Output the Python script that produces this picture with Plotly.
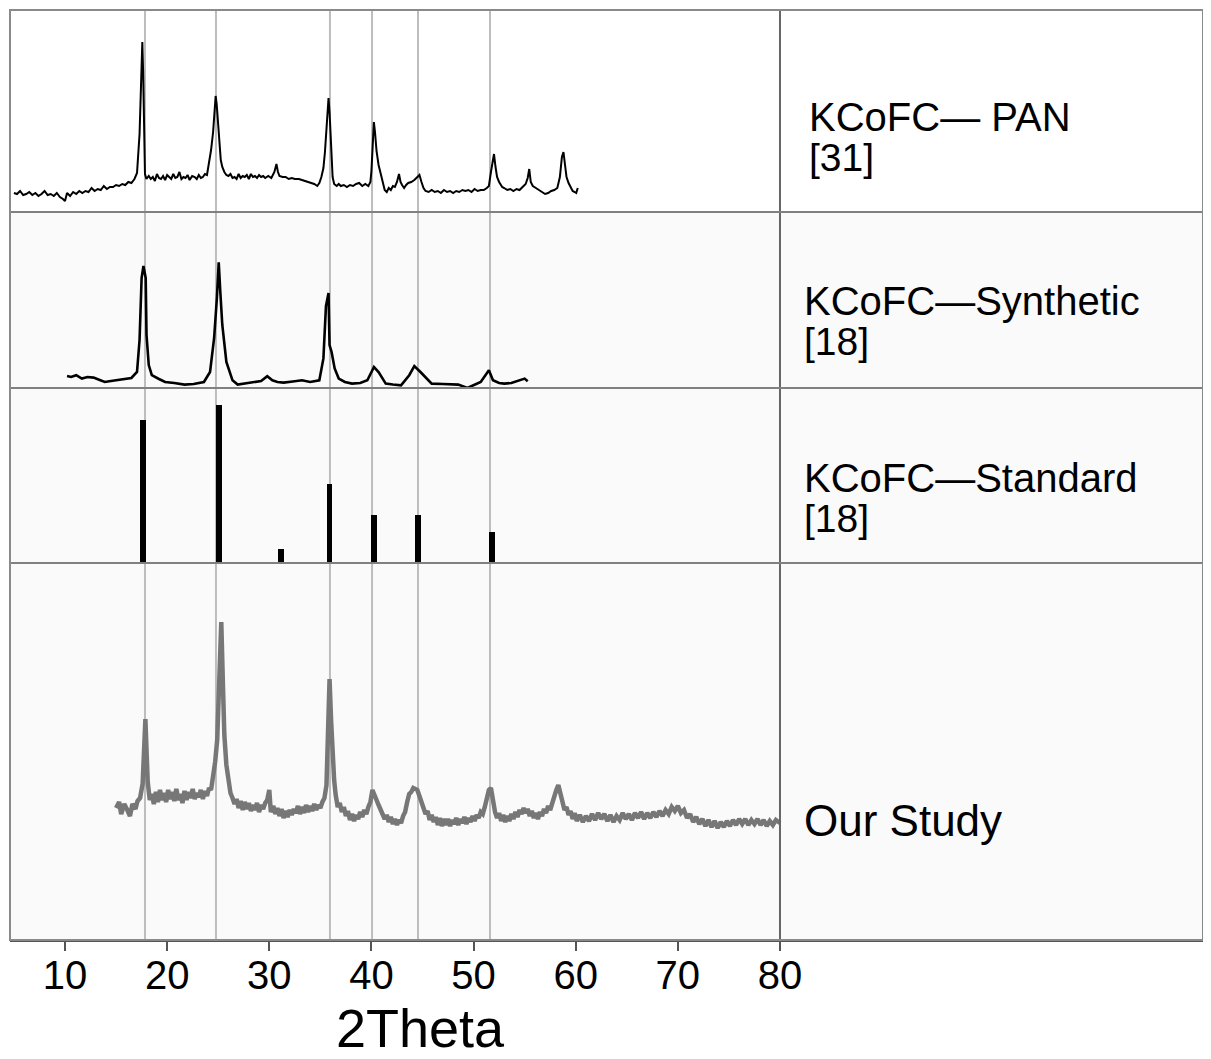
import plotly.graph_objects as go
from plotly.subplots import make_subplots

# ---------------- data (2Theta in degrees, intensity in arbitrary units) ----------------
pan_x = [5.0, 5.3, 5.6, 5.9, 6.2, 6.5, 6.8, 7.1, 7.4, 7.7, 8.0, 8.3, 8.6, 8.9, 9.2, 9.5, 9.8, 10.0,
         10.2, 10.5, 10.8, 11.1, 11.4, 11.7, 12.0, 12.3, 12.6, 12.9, 13.2, 13.5, 13.8, 14.1, 14.4,
         14.7, 15.0, 15.3, 15.6, 15.9, 16.2, 16.5, 16.8, 17.05, 17.3, 17.5, 17.57, 17.65, 17.75,
         17.83, 17.97, 18.2, 18.4, 18.6, 18.8, 19.0, 19.2, 19.4, 19.6, 19.8, 20.0, 20.2, 20.4,
         20.6, 20.8, 21.0, 21.2, 21.4, 21.6, 21.8, 22.0, 22.2, 22.45, 22.7, 22.9, 23.1, 23.3,
         23.5, 23.7, 23.9, 24.1, 24.3, 24.5, 24.65, 24.75, 24.85, 24.95, 25.1, 25.25, 25.4, 25.6,
         25.8, 26.0, 26.2, 26.4, 26.6, 26.8, 27.0, 27.2, 27.4, 27.6, 27.8, 28.0, 28.2, 28.4, 28.6,
         28.8, 29.0, 29.2, 29.4, 29.6, 29.9, 30.2, 30.5, 30.7, 30.85, 31.0, 31.3, 31.6, 31.9, 32.2,
         32.5, 32.9, 33.2, 33.5, 33.8, 34.1, 34.4, 34.7, 34.9, 35.1, 35.3, 35.45, 35.6, 35.7, 35.8,
         35.9, 36.0, 36.1, 36.2, 36.35, 36.6, 36.8, 37.0, 37.3, 37.6, 37.9, 38.2, 38.5, 38.8, 39.1,
         39.4, 39.7, 39.9, 40.0, 40.1, 40.24, 40.35, 40.5, 40.7, 40.9, 41.1, 41.3, 41.5, 41.7,
         41.9, 42.1, 42.3, 42.5, 42.7, 42.85, 43.0, 43.2, 43.4, 43.6, 43.9, 44.2, 44.5, 44.7, 44.9,
         45.1, 45.3, 45.6, 45.9, 46.2, 46.5, 46.8, 47.1, 47.4, 47.7, 48.0, 48.3, 48.6, 48.9, 49.2,
         49.5, 49.8, 50.1, 50.4, 50.7, 51.0, 51.3, 51.5, 51.7, 51.9, 52.0, 52.15, 52.3, 52.5, 52.8,
         53.0, 53.3, 53.6, 53.9, 54.2, 54.5, 54.8, 55.1, 55.3, 55.45, 55.6, 55.8, 56.1, 56.4, 56.7,
         57.0, 57.3, 57.6, 57.9, 58.2, 58.45, 58.65, 58.8, 58.95, 59.1, 59.3, 59.5, 59.7, 59.9,
         60.05, 60.2]
pan_y = [19, 18, 21, 17, 18, 20, 17, 19, 16, 18, 21, 17, 18, 16, 19, 15, 13, 11,
         19, 16, 20, 18, 21, 19, 21, 20, 24, 21, 23, 22, 26, 23, 25,
         25, 27, 26, 28, 27, 30, 29, 33, 39, 78, 150, 170, 140, 80,
         38, 33, 36, 33, 35, 31, 38, 34, 33, 36, 32, 37, 35, 33,
         38, 34, 35, 40, 33, 35, 34, 37, 32, 36, 35, 33, 37, 34,
         35, 38, 37, 48, 62, 80, 105, 116, 108, 92, 66, 52, 45, 40,
         37, 36, 38, 34, 35, 33, 38, 34, 36, 35, 37, 33, 38, 35, 36,
         34, 37, 35, 36, 34, 36, 34, 40, 48, 40, 36, 35, 35, 33, 34,
         33, 33, 32, 31, 30, 29, 28, 26, 29, 35, 44, 60, 85, 105, 114,
         100, 80, 55, 35, 28, 26, 28, 26, 27, 25, 27, 26, 28, 29, 26,
         28, 26, 30, 41, 60, 90, 80, 61, 47, 38, 30, 22, 20, 24,
         22, 26, 25, 30, 38, 30, 27, 24, 27, 29, 30, 32, 35, 37, 30,
         24, 21, 20, 22, 20, 21, 19, 22, 20, 21, 19, 21, 20, 22, 21,
         22, 20, 23, 21, 22, 22, 24, 26, 40, 55, 58, 45, 35, 30, 25,
         24, 22, 23, 21, 23, 22, 25, 28, 34, 43, 30, 26, 24, 22, 20,
         18, 19, 21, 22, 24, 35, 55, 60, 45, 35, 29, 25, 21, 20,
         19, 24]

syn_x = [10.2, 10.6, 11.1, 11.65, 12.2, 12.8, 13.4, 13.9, 14.5, 15.0, 15.8, 16.5, 17.05, 17.3,
         17.5, 17.68, 17.9, 17.98, 18.2, 18.5, 19.2, 19.8, 20.7, 21.7, 22.6, 23.6, 24.2, 24.6,
         24.87, 25.05, 25.2, 25.4, 25.8, 26.4, 26.9, 27.6, 28.4, 29.2, 29.8, 30.3, 30.8, 31.4,
         32.3, 33.2, 34.0, 34.9, 35.3, 35.55, 35.8, 35.9, 36.1, 36.4, 36.8, 37.4, 38.1, 38.9,
         39.6, 40.25, 40.7, 41.4, 42.1, 42.9, 43.7, 44.2, 44.8, 45.9, 47.0, 48.5, 49.4, 50.0,
         50.7, 51.5, 51.9, 52.5, 53.0, 53.7, 54.3, 55.0, 55.3]
syn_y = [12, 11, 12.8, 9.4, 11, 10.4, 8, 6, 7, 7.7, 9, 10, 16, 48,
         110, 122, 110, 53, 23, 12.8, 9, 6, 5, 3.4, 4, 6, 16, 50,
         90, 125.6, 97, 63, 26, 7.7, 3.4, 4.5, 5.4, 7, 11.8, 7.7, 6, 5.4,
         6.5, 7.7, 6, 7.7, 29.6, 82, 95, 43, 36, 19.5, 9.4, 6, 4.4, 5,
         7.7, 21, 16, 4.4, 3.5, 2.7, 12.8, 22, 16, 4.4, 4, 3.4, 0, 2.5,
         6, 17.8, 7.7, 5, 4.4, 5, 6.7, 9.4, 6.7]

std_x = [17.64, 25.05, 31.16, 35.9, 40.24, 44.56, 51.78]
std_y = [143, 158, 14, 79, 48, 48, 31]

our_x = [15.0, 15.3, 15.5, 15.8, 16.1, 16.36, 16.6, 16.9, 17.1, 17.35, 17.6, 17.75, 17.87, 18.0,
         18.1, 18.3, 18.5, 18.7, 18.9, 19.1, 19.3, 19.5, 19.7, 19.9, 20.1, 20.3, 20.5, 20.7, 20.9,
         21.1, 21.3, 21.5, 21.7, 21.9, 22.1, 22.3, 22.5, 22.7, 22.9, 23.1, 23.3, 23.5, 23.7, 23.9,
         24.1, 24.3, 24.5, 24.7, 24.9, 25.1, 25.3, 25.45, 25.6, 25.8, 26.0, 26.2, 26.4, 26.6,
         26.8, 27.0, 27.2, 27.4, 27.6, 27.8, 28.0, 28.2, 28.4, 28.6, 28.8, 29.0, 29.2, 29.4, 29.6,
         29.8, 30.0, 30.15, 30.4, 30.6, 30.8, 31.0, 31.2, 31.4, 31.6, 31.8, 32.0, 32.2, 32.4,
         32.6, 32.8, 33.0, 33.2, 33.4, 33.6, 33.8, 34.0, 34.2, 34.4, 34.6, 34.8, 35.0, 35.2,
         35.4, 35.6, 35.75, 35.9, 36.05, 36.2, 36.35, 36.5, 36.7, 36.9, 37.1, 37.3, 37.5, 37.7,
         37.9, 38.1, 38.3, 38.5, 38.7, 38.9, 39.1, 39.3, 39.5, 39.7, 39.9, 40.1, 40.3, 40.5, 40.7,
         40.9, 41.1, 41.3, 41.5, 41.7, 41.9, 42.1, 42.3, 42.5, 42.7, 42.9, 43.1, 43.3, 43.5, 43.7,
         43.9, 44.1, 44.3, 44.5, 44.7, 44.9, 45.1, 45.3, 45.5, 45.7, 45.9, 46.1, 46.3, 46.5, 46.7,
         46.9, 47.1, 47.3, 47.5, 47.7, 47.9, 48.1, 48.3, 48.5, 48.7, 48.9, 49.1, 49.3, 49.5, 49.7,
         49.9, 50.1, 50.3, 50.5, 50.7, 50.9, 51.1, 51.3, 51.5, 51.7, 51.9, 52.1, 52.3, 52.5, 52.7,
         52.9, 53.1, 53.3, 53.5, 53.7, 53.9, 54.1, 54.3, 54.5, 54.7, 54.9, 55.1, 55.3, 55.5, 55.7,
         55.9, 56.1, 56.3, 56.5, 56.7, 56.9, 57.1, 57.3, 57.5, 57.7, 57.9, 58.1, 58.3, 58.5, 58.7,
         58.9, 59.1, 59.3, 59.5, 59.7, 59.9, 60.1, 60.4, 60.7, 61.0, 61.3, 61.6, 61.9, 62.2, 62.5,
         62.8, 63.1, 63.4, 63.7, 64.0, 64.3, 64.6, 64.9, 65.2, 65.5, 65.8, 66.1, 66.4, 66.7, 67.0,
         67.3, 67.6, 67.9, 68.2, 68.5, 68.8, 69.1, 69.4, 69.7, 70.0, 70.3, 70.6, 70.9, 71.2, 71.5,
         71.8, 72.1, 72.4, 72.7, 73.0, 73.3, 73.6, 73.9, 74.2, 74.5, 74.8, 75.1, 75.4, 75.7, 76.0,
         76.3, 76.6, 76.9, 77.2, 77.5, 77.8, 78.1, 78.4, 78.7, 79.0, 79.3, 79.6, 80.0]
our_y = [132, 138, 126, 136, 130, 124, 136, 131, 139, 142, 156, 190, 221, 185,
         158, 140, 146, 136, 148, 138, 150, 140, 147, 138, 150, 141, 148, 139, 151,
         140, 146, 137, 149, 140, 148, 142, 151, 141, 147, 143, 150, 141, 149, 144,
         152, 150, 162, 178, 200, 260, 318, 260, 205, 175, 158, 147, 142, 136,
         141, 132, 139, 130, 138, 131, 137, 129, 135, 130, 137, 128, 135, 131, 137,
         140, 150, 128, 134, 126, 132, 124, 131, 122, 129, 123, 130, 125, 131,
         127, 134, 126, 133, 127, 135, 128, 134, 129, 136, 130, 135, 132, 138,
         142, 155, 200, 261, 220, 185, 160, 145, 133, 137, 128, 133, 124, 129,
         120, 126, 119, 125, 121, 128, 123, 130, 126, 133, 138, 150, 146, 140, 135,
         130, 126, 121, 125, 118, 123, 116, 121, 115, 120, 117, 124, 128, 138, 146,
         148, 152, 151, 150, 144, 137, 132, 126, 129, 120, 125, 118, 123, 115, 122,
         114, 121, 115, 121, 114, 120, 116, 122, 115, 121, 117, 123, 116, 122, 118,
         124, 119, 125, 122, 128, 126, 133, 140, 150, 152, 138, 128, 122, 127, 119,
         125, 118, 124, 119, 126, 121, 128, 123, 130, 126, 132, 127, 131, 124, 129,
         122, 127, 121, 128, 124, 131, 127, 134, 130, 138, 142, 150, 155, 148, 138,
         130, 133, 125, 129, 121, 127, 119, 125, 118, 124, 119, 126, 120, 127, 121,
         126, 119, 125, 118, 124, 120, 127, 121, 126, 120, 127, 122, 128, 121, 127,
         122, 128, 123, 129, 124, 130, 126, 133, 129, 134, 127, 130, 122, 126, 118,
         123, 116, 121, 114, 120, 113, 119, 112, 118, 113, 119, 114, 120, 115, 121,
         116, 121, 115, 120, 116, 121, 115, 120, 114, 119, 115, 120, 117]

peak_lines = [17.83, 24.78, 35.94, 40.06, 44.56, 51.61]
tick_vals = [10, 20, 30, 40, 50, 60, 70, 80]
tick_text = ["10", "20", "30", "40", "50", "60", "70", "80"]

label_lines = [
    ("KCoFC\u2014 PAN", 808, 117, 40),
    ("[31]", 808, 157, 39),
    ("KCoFC\u2014Synthetic", 803, 301, 40),
    ("[18]", 803, 341, 39),
    ("KCoFC\u2014Standard", 803, 478, 40),
    ("[18]", 803, 518, 39),
    ("Our Study", 803, 820, 44),
]
x_title = "2Theta"

# ---------------- figure ----------------
OFF = 8                      # page body margin in the browser
W, H = 1203, 1051
L, R, T, B = 2, 8, 2, 119
PW, PH = W - L - R, H - T - B
panel_heights = [202, 176, 175, 377]

fig = make_subplots(rows=4, cols=1, shared_xaxes=True, vertical_spacing=0,
                    row_heights=panel_heights)

fig.add_trace(go.Scatter(x=pan_x, y=pan_y, mode="lines",
                         line=dict(color="black", width=2)), row=1, col=1)
fig.add_trace(go.Scatter(x=syn_x, y=syn_y, mode="lines",
                         line=dict(color="black", width=2.6)), row=2, col=1)
fig.add_trace(go.Bar(x=std_x, y=std_y, width=0.55, marker=dict(color="black", line=dict(width=0))),
              row=3, col=1)
fig.add_trace(go.Scatter(x=our_x, y=our_y, mode="lines",
                         line=dict(color="#777777", width=4.5)), row=4, col=1)

# x range: page px 65 -> 10, page px 780 -> 80
xr = [10 - (65 - (L + OFF)) / 10.214, 80 + ((W - R + OFF) - 780) / 10.214]
for i in range(1, 5):
    fig.update_yaxes(range=[0, panel_heights[i - 1]], visible=False, row=i, col=1)
    fig.update_xaxes(range=xr, showgrid=False, zeroline=False, showticklabels=False,
                     ticks="", row=i, col=1)
fig.update_xaxes(showticklabels=True, tickvals=tick_vals, ticktext=tick_text, ticks="outside",
                 ticklen=9, tickwidth=2, tickcolor="#555", showline=True, linecolor="#555",
                 linewidth=2, ticklabelstandoff=-10,
                 tickfont=dict(size=40, color="black", family="Liberation Sans, Arial"),
                 row=4, col=1)

def py(p):
    return (H - B - (p - OFF)) / PH

def px(p):
    return ((p - OFF) - L) / PW

shapes = []
shapes.append(dict(type="rect", xref="paper", yref="paper", x0=0, x1=1, y0=0, y1=py(212),
                   fillcolor="#fafafa", line=dict(width=0), layer="below"))
for v in peak_lines:
    shapes.append(dict(type="line", xref="x4", yref="paper", x0=v, x1=v, y0=0, y1=1,
                       line=dict(color="#bdbdbd", width=2), layer="below"))
shapes.append(dict(type="line", xref="x4", yref="paper", x0=80, x1=80, y0=0, y1=1,
                   line=dict(color="#666", width=2), layer="above"))
for sep in [212, 388, 563]:
    shapes.append(dict(type="line", xref="paper", yref="paper", x0=0, x1=1, y0=py(sep), y1=py(sep),
                       line=dict(color="#808080", width=2), layer="above"))
shapes.append(dict(type="rect", xref="paper", yref="paper", x0=0, x1=1, y0=0, y1=1,
                   line=dict(color="#8a8a8a", width=2), layer="above"))

annotations = []
for txt, lx, ly, fs in label_lines:
    annotations.append(dict(text=txt, xref="paper", yref="paper", x=px(lx), y=py(ly),
                            xanchor="left", yanchor="middle", showarrow=False, borderpad=0,
                            font=dict(size=fs, color="black", family="Liberation Sans, Arial")))
annotations.append(dict(text=x_title, xref="paper", yref="paper", x=px(420), y=py(1028),
                        xanchor="center", yanchor="middle", showarrow=False, borderpad=0,
                        font=dict(size=54, color="black", family="Liberation Sans, Arial")))

fig.update_layout(width=W, height=H, margin=dict(l=L, r=R, t=T, b=B),
                  paper_bgcolor="white", plot_bgcolor="white", showlegend=False,
                  bargap=0, shapes=shapes, annotations=annotations)

fig.write_html("out.html")
